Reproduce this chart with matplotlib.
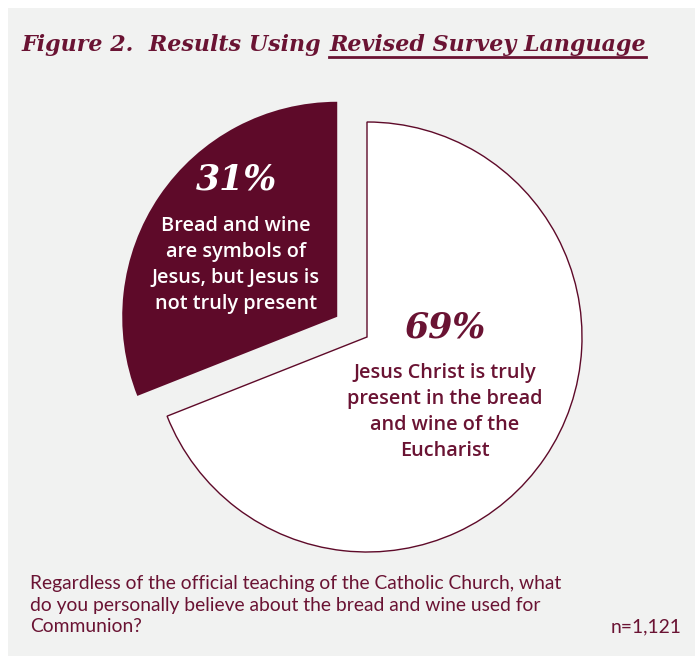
import matplotlib
matplotlib.use("Agg")
import matplotlib.pyplot as plt
from matplotlib.patches import Rectangle
from matplotlib.lines import Line2D

# survey shares
shares = [69, 31]
share_labels = ["69%", "31%"]
share_texts = [
    "Jesus Christ is truly\npresent in the bread\nand wine of the\nEucharist",
    "Bread and wine\nare symbols of\nJesus, but Jesus is\nnot truly present",
]
question = ("Regardless of the official teaching of the Catholic Church, what\n"
            "do you personally believe about the bread and wine used for\n"
            "Communion?")
sample_note = "n=1,121"
title_lead = "Figure 2.  Results Using "
title_link = "Revised Survey Language"

MAROON = "#5e0a29"
TEXT_RED = "#6a1333"
PANEL = "#f1f2f1"

W, H = 695, 656
fig = plt.figure(figsize=(W / 100, H / 100), dpi=100)
fig.patch.set_facecolor("white")

ax = fig.add_axes([0, 0, 1, 1])

# grey panel behind everything
ax.add_patch(Rectangle((8, 0), W - 8, H - 8, facecolor=PANEL, edgecolor="none", zorder=0))

# pie in pixel-like data units; explode is an absolute offset here
cx, cy, r = 367, H - 337, 215
wedges, _ = ax.pie(shares, center=(cx, cy), radius=r, startangle=90,
                   counterclock=False, explode=[0, 36],
                   colors=["white", MAROON])
wedges[0].set_edgecolor(MAROON)
wedges[0].set_linewidth(1.0)
wedges[1].set_edgecolor("none")
for w in wedges:
    w.set_zorder(2)

ax.set_xlim(0, W)
ax.set_ylim(0, H)
ax.set_aspect("equal")
ax.axis("off")

serif = dict(family="DejaVu Serif", weight="bold", style="italic")
sans_b = dict(family="Open Sans", weight="semibold")

# 69% slice labels
ax.text(445, H - 327, share_labels[0], color=TEXT_RED, fontsize=25,
        ha="center", va="center", zorder=3, **serif)
ax.text(445, H - 412, share_texts[0], color=TEXT_RED, fontsize=14.3,
        ha="center", va="center", linespacing=1.38, zorder=3, **sans_b)

# 31% slice labels
ax.text(236, H - 180, share_labels[1], color="white", fontsize=25,
        ha="center", va="center", zorder=3, **serif)
ax.text(236, H - 265, share_texts[1], color="white", fontsize=14.3,
        ha="center", va="center", linespacing=1.38, zorder=3, **sans_b)

# title with underlined second half
fig.canvas.draw()
renderer = fig.canvas.get_renderer()
t1 = fig.text(22 / W, 1 - 45 / H, title_lead, color=TEXT_RED, fontsize=15.9,
              ha="left", va="center", **serif)
bb = t1.get_window_extent(renderer)
t2 = fig.text(bb.x1 / W, 1 - 45 / H, title_link, color=TEXT_RED, fontsize=15.9,
              ha="left", va="center", **serif)
bb2 = t2.get_window_extent(renderer)
fig.add_artist(Line2D([bb2.x0 / W, bb2.x1 / W], [1 - 57 / H, 1 - 57 / H],
                      color=TEXT_RED, linewidth=2.0))

# question and sample size
fig.text(30 / W, 1 - 605 / H, question, color=TEXT_RED, fontsize=13.9,
         family="Lato", ha="left", va="center", linespacing=1.34)
fig.text(681 / W, 1 - 627 / H, sample_note, color=TEXT_RED, fontsize=13.9,
         family="Lato", ha="right", va="center")

fig.savefig("out.png", dpi=100, facecolor=fig.get_facecolor())
